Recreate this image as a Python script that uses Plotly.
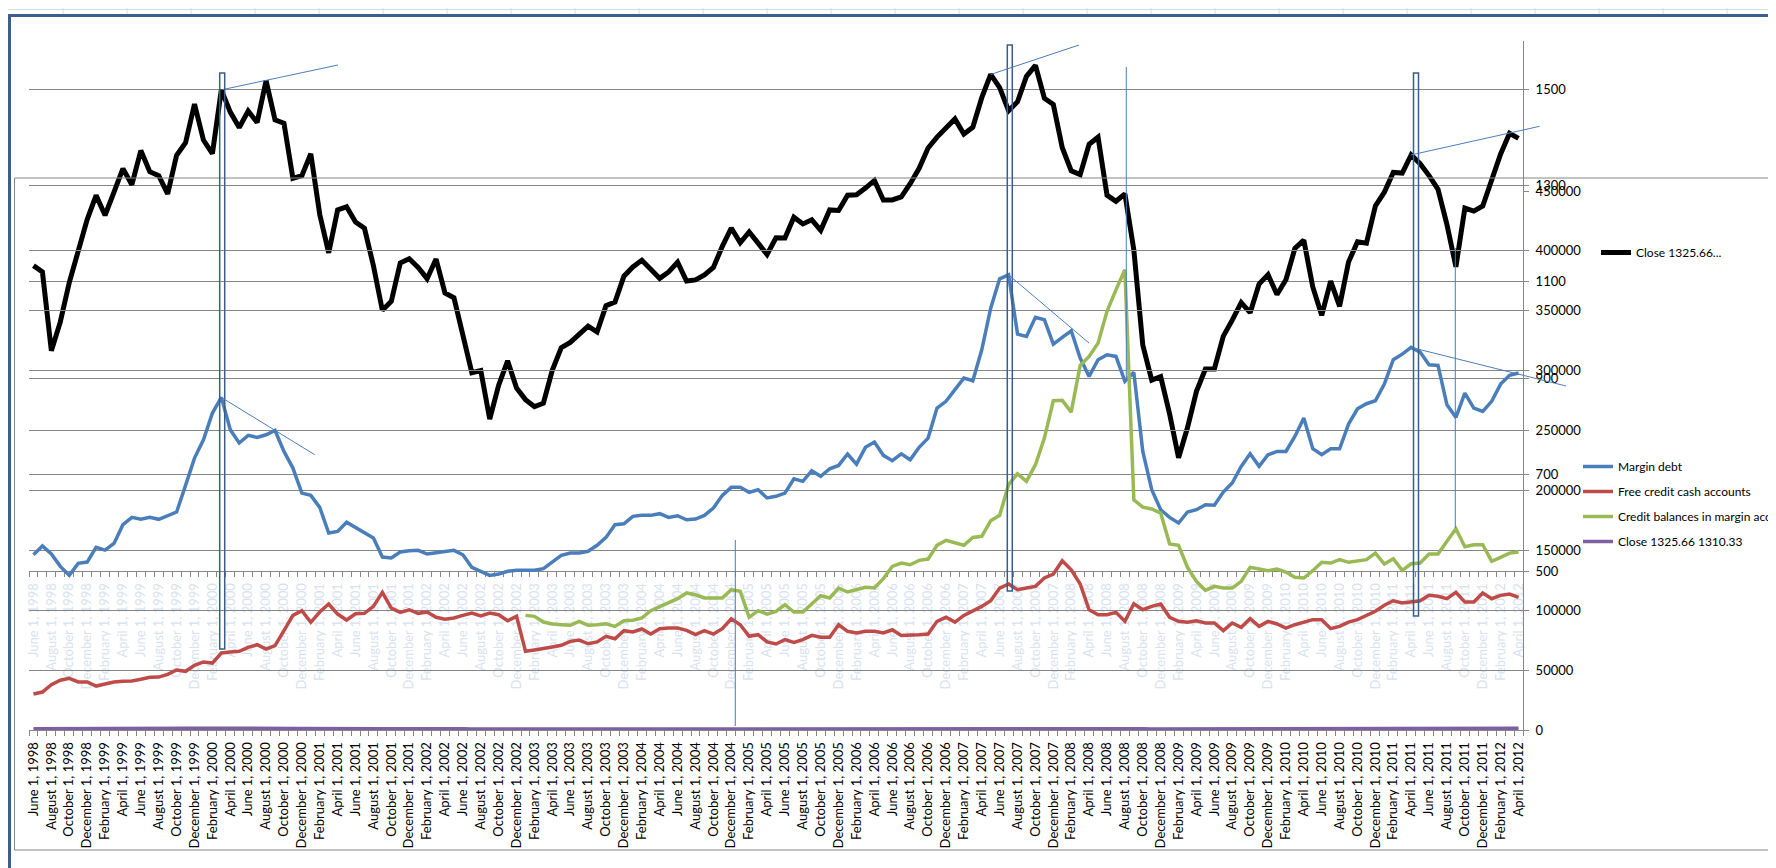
import pandas as pd
import plotly.graph_objects as go

# monthly categories, June 1998 .. April 2012
months = pd.date_range("1998-06-01", "2012-04-01", freq="MS")
month_labels = [f"{d.strftime('%B')} {d.day}, {d.year}" for d in months]

close = [
    1133.84, 1120.67, 957.28, 1017.01, 1098.67, 1163.63, 1229.23,
    1279.64, 1238.33, 1286.37, 1335.18, 1301.84, 1372.71, 1328.72, 1320.41, 1282.71, 1362.93, 1388.91, 1469.25,
    1394.46, 1366.42, 1498.58, 1452.43, 1420.60, 1454.60, 1430.83, 1517.68, 1436.51, 1429.40, 1314.95, 1320.28,
    1366.01, 1239.94, 1160.33, 1249.46, 1255.82, 1224.38, 1211.23, 1133.58, 1040.94, 1059.78, 1139.45, 1148.08,
    1130.20, 1106.73, 1147.39, 1076.92, 1067.14, 989.82, 911.62, 916.07, 815.28, 885.76, 936.31, 879.82,
    855.70, 841.15, 848.18, 916.92, 963.59, 974.50, 990.31, 1008.01, 995.97, 1050.71, 1058.20, 1111.92,
    1131.13, 1144.94, 1126.21, 1107.30, 1120.68, 1140.84, 1101.72, 1104.24, 1114.58, 1130.20, 1173.82, 1211.92,
    1181.27, 1203.60, 1180.59, 1156.85, 1191.50, 1191.33, 1234.18, 1220.33, 1228.81, 1207.01, 1249.48, 1248.29,
    1280.08, 1280.66, 1294.83, 1310.61, 1270.09, 1270.20, 1276.66, 1303.82, 1335.85, 1377.94, 1400.63, 1418.30,
    1438.24, 1406.82, 1420.86, 1482.37, 1530.62, 1503.35, 1455.27, 1473.99, 1526.75, 1549.38, 1481.14, 1468.36,
    1378.55, 1330.63, 1322.70, 1385.59, 1400.38, 1280.00, 1267.38, 1282.83, 1166.36, 968.75, 896.24, 903.25,
    825.88, 735.09, 797.87, 872.81, 919.14, 919.32, 987.48, 1020.62, 1057.08, 1036.19, 1095.63, 1115.10,
    1073.87, 1104.49, 1169.43, 1186.69, 1089.41, 1030.71, 1101.60, 1049.33, 1141.20, 1183.26, 1180.55, 1257.64,
    1286.12, 1327.22, 1325.83, 1363.61, 1345.20, 1320.64, 1292.28, 1218.89, 1131.42, 1253.30, 1246.96, 1257.60,
    1312.41, 1365.68, 1408.47, 1397.91,
]

margin_debt = [
    146300, 153600, 146900, 136600, 129100, 139100, 140200, 152500, 150200, 155800,
    171400, 177500, 175900, 177500, 175900, 178900, 182000, 204200, 227000, 242300,
    264600, 277700, 250700, 239600, 246000, 244300, 246500, 250100, 232600, 218700,
    197800, 195900, 185900, 164400, 165800, 173400, 169200, 164400, 160300, 144400,
    143600, 148600, 149700, 150000, 146900, 148000, 149200, 150000, 146300, 135800,
    132500, 129100, 130200, 132500, 133300, 133300, 133300, 134700, 140200, 145800,
    147700, 147700, 149200, 154200, 160800, 171400, 172200, 178400, 179200, 179200,
    180600, 177500, 178900, 175500, 176100, 179200, 185300, 195900, 202600, 202600,
    198400, 200600, 193700, 195100, 197800, 209800, 207600, 216500, 211800, 218100,
    220900, 230400, 222000, 236000, 240400, 229300, 224800, 230600, 225600, 236000,
    243700, 268800, 274400, 284100, 293800, 291600, 317400, 352200, 376700, 380000,
    330500, 328600, 344500, 342500, 322200, 327800, 333300, 310500, 295200, 309100,
    313300, 311900, 291100, 298600, 232600, 200600, 183900, 177500, 172800, 182000,
    183900, 188100, 187600, 198700, 206200, 220100, 230600, 220100, 229800, 232600,
    232600, 245100, 260400, 234800, 229800, 234800, 234800, 255400, 268200, 272400,
    274900, 288800, 309100, 313800, 319400, 315500, 304900, 304400, 271500, 261000,
    281300, 268800, 266000, 274400, 288800, 296100, 298000,
]

free_credit = [
    30000, 31700, 37800, 41500, 43100, 40100, 40100, 36700, 38400, 40100,
    40600, 40900, 42300, 44000, 44200, 46500, 50100, 49000, 54000, 56800,
    55900, 64300, 65100, 65700, 69000, 71200, 67600, 70400, 82900, 95700,
    99600, 89900, 98500, 105200, 96800, 91800, 97100, 97400, 103200, 114900,
    101800, 98200, 100400, 97400, 98500, 94100, 92400, 93500, 95700, 97700,
    95200, 97700, 96200, 91200, 94900, 65700, 66800, 68400, 69300, 70700,
    74000, 75100, 72000, 73500, 78200, 76200, 82900, 81800, 84300, 80100,
    84600, 85100, 85100, 83200, 79600, 82900, 80100, 84600, 92900, 87900,
    78200, 79600, 73500, 71800, 75400, 73200, 75400, 79000, 77400, 77400,
    87900, 82400, 81000, 82400, 82400, 81000, 83700, 79000, 79000, 79600,
    80100, 90700, 94100, 90100, 95700, 99100, 103200, 107900, 118500, 121900,
    117100, 118500, 119900, 126900, 130200, 141300, 133800, 121900, 100400, 96200,
    96200, 98200, 90700, 105400, 100400, 103200, 105200, 94100, 90700, 89900,
    91200, 89300, 89300, 82900, 89300, 85700, 92900, 86500, 90700, 88500,
    85100, 87900, 90100, 92100, 92100, 84600, 86500, 90100, 92100, 95700,
    99100, 104100, 107900, 106000, 106800, 107900, 112400, 111600, 109600, 114900,
    106800, 106800, 114400, 109600, 112400, 113500, 110800,
]

# series only starts in January 2003
credit_balances = [None] * 55 + [
    95700, 94900, 90100, 88500, 87900, 87400, 90700, 87400, 87900, 88700,
    86500, 91200, 91600, 93500, 99600, 103200, 106000, 109600, 114400, 112900,
    110200, 110200, 110200, 117100, 115800, 94100, 99600, 96800, 99100, 104600,
    98500, 98500, 105200, 112100, 110200, 118500, 115200, 117100, 119100, 118500,
    126300, 136600, 139400, 138000, 141600, 142700, 154200, 158300, 156100, 154200,
    160800, 161700, 174700, 179200, 204800, 213900, 207600, 221500, 243700, 274900,
    275200, 265400, 304400, 311900, 323000, 349500, 367500, 384200, 192200, 186100,
    184500, 181100, 155300, 154200, 135800, 124100, 116600, 119900, 118500, 118500,
    124100, 135800, 134400, 133000, 134400, 131900, 127500, 126900, 133000, 140000,
    139400, 142200, 140000, 141300, 142200, 147700, 138600, 143000, 133300, 138800,
    139400, 146900, 146900, 157500, 168000, 153000, 154700, 154700, 140800, 144100,
    147700, 148600,
]

idx = list(range(len(months)))
even_idx = idx[::2]
even_labels = month_labels[::2]

# page geometry (px) of the plotting area
L, R, T, B = 21, 1515, 33, 722
W, H = 1776, 868


def px_x(px):
    return (px - L) / (R - L)


def px_y(py):
    return (B - py) / (B - T)


def cat_px(i):
    return L + (i + 0.5) * (R - L) / len(months)


def close_px(v):
    return 563 - (v - 500) * 530 / 1100


def debt_px(v):
    return B - v * 539 / 450000


font = "Lato"
grid = "#868686"

fig = go.Figure()

# back chart: S&P close
fig.add_trace(go.Scatter(
    x=idx, y=close, xaxis="x", yaxis="y", mode="lines",
    line=dict(color="black", width=5), name="Close 1325.66...",
    legend="legend2",
))

# front chart
fig.add_trace(go.Scatter(x=idx, y=margin_debt, xaxis="x2", yaxis="y2", mode="lines",
                         line=dict(color="#4a7ebb", width=3.5), name="Margin debt",
                         legendgroup="a"))
fig.add_trace(go.Scatter(x=idx, y=free_credit, xaxis="x2", yaxis="y2", mode="lines",
                         line=dict(color="#be4b48", width=3.5), name="Free credit cash accounts",
                         legendgroup="b"))
fig.add_trace(go.Scatter(x=idx, y=credit_balances, xaxis="x2", yaxis="y2", mode="lines",
                         line=dict(color="#98b954", width=3.5),
                         name="Credit balances in margin accounts", legendgroup="c"))
fig.add_trace(go.Scatter(x=idx, y=close, xaxis="x2", yaxis="y2", mode="lines",
                         line=dict(color="#7d60a0", width=3.5), name="Close 1325.66 1310.33",
                         legendgroup="d"))

xcommon = dict(
    range=[-0.5, len(months) - 0.5], domain=[0, 1],
    tickmode="array", tickvals=even_idx, ticktext=even_labels, tickangle=-90,
    ticks="outside", ticklen=6, tickcolor="rgba(0,0,0,0)",
    minor=dict(tick0=-0.5, dtick=1, ticks="outside", ticklen=5, tickcolor=grid),
    showline=True, linecolor=grid, linewidth=1, showgrid=False, zeroline=False,
)

fig.update_layout(
    width=W, height=H,
    margin=dict(l=L, r=W - R, t=T, b=H - B, autoexpand=False),
    paper_bgcolor="white", plot_bgcolor="rgba(0,0,0,0)",
    font=dict(family=font, size=13, color="black"),
    xaxis=dict(**xcommon, anchor="y", tickfont=dict(family=font, size=13, color="#d8e2ef")),
    xaxis2=dict(**xcommon, anchor="y2", tickfont=dict(family=font, size=13, color="black")),
    yaxis=dict(
        domain=[(B - 563) / (B - T), 1], range=[500, 1600], side="right", anchor="x",
        tickmode="array", tickvals=[500, 700, 900, 1100, 1300, 1500],
        ticks="outside", ticklen=5, tickcolor=grid, ticklabelstandoff=4,
        showline=True, linecolor=grid, showgrid=True, gridcolor=grid, zeroline=False,
    ),
    yaxis2=dict(
        domain=[0, (B - 183) / (B - T)], range=[0, 450000], side="right", anchor="x2",
        tickmode="linear", tick0=0, dtick=50000, tickformat="d",
        ticks="outside", ticklen=5, tickcolor=grid, ticklabelstandoff=4,
        showline=True, linecolor=grid, showgrid=True, gridcolor=grid, zeroline=False,
    ),
    legend=dict(
        x=px_x(1570), y=px_y(444), xanchor="left", yanchor="top",
        bgcolor="rgba(0,0,0,0)", itemwidth=30, traceorder="grouped", tracegroupgap=6,
        font=dict(family=font, size=12),
    ),
    legend2=dict(
        x=px_x(1588), y=px_y(230), xanchor="left", yanchor="top",
        bgcolor="rgba(0,0,0,0)", itemwidth=30, font=dict(family=font, size=12),
    ),
    showlegend=True,
)

shapes = []


def seg(x0, y0, x1, y1, color, width=1):
    shapes.append(dict(type="line", xref="paper", yref="paper",
                       x0=px_x(x0), y0=px_y(y0), x1=px_x(x1), y1=px_y(y1),
                       line=dict(color=color, width=width)))


def box(x0, y0, x1, y1, color, width=1.5):
    shapes.append(dict(type="rect", xref="paper", yref="paper",
                       x0=px_x(x0), y0=px_y(y0), x1=px_x(x1), y1=px_y(y1),
                       line=dict(color=color, width=width)))


# spreadsheet cells peeking above the chart
seg(0, 1.5, W, 1.5, "#d4dbe8")
for k in range(28):
    seg(55 + 64 * k, 0, 55 + 64 * k, 6, "#d4dbe8")

# outer (selected) chart border and front chart frame
seg(0, 7.5, W, 7.5, "#3b5e8e", 3)
seg(1.5, 6, 1.5, H, "#3b5e8e", 3)
box(6.5, 170, W + 20, 842, grid, 1)

# hand-drawn trend lines and marker boxes
ann = "#4a7ebb"
rect_c = "#385d8a"
seg(cat_px(21), close_px(close[21]), 330, 57, ann)
box(211.7, 65, 216.7, 641, rect_c)
seg(cat_px(21), debt_px(margin_debt[21]), 306.7, 446.7, ann)
seg(727.3, 532, 727.3, 718, ann)
box(999.3, 37, 1004.3, 583, rect_c)
seg(cat_px(107), close_px(close[107]), 1071, 37, ann)
seg(cat_px(109), debt_px(margin_debt[109]), 1081, 335, ann)
seg(1118.3, 59, 1118.3, 372, ann)
box(1405.5, 65, 1410.5, 608, rect_c)
seg(cat_px(154), close_px(close[154]), 1531.7, 118.3, ann)
seg(cat_px(154), debt_px(margin_debt[154]), 1558, 378, ann)
seg(1447.3, 240, 1447.3, 520, ann)

fig.update_layout(shapes=shapes)

fig.write_html("out.html")
